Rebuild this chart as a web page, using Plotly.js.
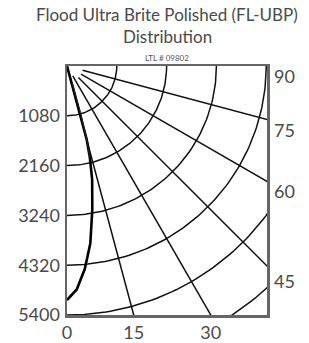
<!DOCTYPE html>
<html>
<head>
<meta charset="utf-8">
<script src="https://cdn.plot.ly/plotly-3.0.1.min.js"></script>
<style>html,body{margin:0;padding:0;background:#fff;}#chart{width:309px;height:343px;}</style>
</head>
<body>
<div id="chart"></div>
<script>
// Candela distribution (angle from nadir in degrees, intensity in cd)
var anglesMain = [0, 2.5, 5, 7.5, 10, 12.5, 14, 15, 16, 30, 45, 60, 75, 90];
var candelaMain = [5075, 4850, 4420, 3880, 3160, 2520, 2050, 1650, 0, 0, 0, 0, 0, 0];
var anglesSecond = [14, 15, 16, 17.4];
var candelaSecond = [2050, 1650, 1100, 364];

// Grid values
var circleValues = [1080, 2160, 3240, 4320, 5400, 6480];
var rayAngles = [15, 30, 45, 60, 75];
var rayStart = [0, 250, 350, 350, 350];
var leftTicks = [1080, 2160, 3240, 4320, 5400];
var bottomAngleLabels = [0, 15, 30];
var rightAngleLabels = [90, 75, 60, 45];
var titleLines = ['Flood Ultra Brite Polished (FL-UBP)', 'Distribution'];
var subTitle = 'LTL # 09802';

var Y_MAX = 5400;
var X_MAX = Y_MAX * 200 / 249;
var D = Math.PI / 180;

function toXY(angles, vals) {
  var x = [], y = [];
  for (var i = 0; i < angles.length; i++) {
    x.push(vals[i] * Math.sin(angles[i] * D));
    y.push(vals[i] * Math.cos(angles[i] * D));
  }
  return {x: x, y: y};
}

var traces = [];
var gridColor = '#111';
circleValues.forEach(function (r) {
  var a = [], v = [];
  for (var t = 0; t <= 90; t += 1) { a.push(t); v.push(r); }
  var p = toXY(a, v);
  traces.push({x: p.x, y: p.y, mode: 'lines', line: {color: gridColor, width: 1.5}, hoverinfo: 'skip', showlegend: false});
});
rayAngles.forEach(function (ang, i) {
  var p = toXY([ang, ang], [rayStart[i], 9000]);
  traces.push({x: p.x, y: p.y, mode: 'lines', line: {color: gridColor, width: 1.5}, hoverinfo: 'skip', showlegend: false});
});
var pm = toXY(anglesMain, candelaMain);
traces.push({x: pm.x, y: pm.y, mode: 'lines', line: {color: '#000', width: 2.6}, showlegend: false});
var ps = toXY(anglesSecond, candelaSecond);
traces.push({x: ps.x, y: ps.y, mode: 'lines', line: {color: '#222', width: 1.2}, showlegend: false});

var fam = 'Lato, "Open Sans", sans-serif';
var txtColor = '#4a4a4a';
var annotations = [];
rightAngleLabels.forEach(function (a) {
  var yv = a >= 90 ? 0 : Math.min(X_MAX / Math.tan(a * D), Y_MAX);
  annotations.push({xref: 'paper', yref: 'y', x: 1, y: yv, xanchor: 'left', yanchor: 'middle', xshift: 5, yshift: a === 45 ? -15 : -10,
    text: String(a), showarrow: false, font: {family: fam, color: txtColor, size: 18}});
});
annotations.push({xref: 'paper', yref: 'paper', x: 0.5, y: 1, xanchor: 'center', yanchor: 'middle', yshift: 52, xshift: 0,
  text: titleLines[0], showarrow: false, font: {family: fam, color: txtColor, size: 17}});
annotations.push({xref: 'paper', yref: 'paper', x: 0.5, y: 1, xanchor: 'center', yanchor: 'middle', yshift: 30, xshift: 0,
  text: titleLines[1], showarrow: false, font: {family: fam, color: txtColor, size: 17}});
annotations.push({xref: 'paper', yref: 'paper', x: 0.5, y: 1, xanchor: 'center', yanchor: 'middle', yshift: 8,
  text: subTitle, showarrow: false, font: {family: fam, color: '#555', size: 8}});

var layout = {
  width: 309, height: 343,
  margin: {l: 67, r: 42, t: 66, b: 28, pad: 0},
  paper_bgcolor: '#fff', plot_bgcolor: '#fff',
  xaxis: {range: [0, X_MAX], showgrid: false, zeroline: false, showline: true, mirror: true, linecolor: '#666', linewidth: 2.5,
    tickvals: bottomAngleLabels.map(function (a) { return Y_MAX * Math.tan(a * D); }),
    ticktext: bottomAngleLabels.map(String), ticks: '', ticklen: 0,
    tickfont: {family: fam, color: txtColor, size: 18}, fixedrange: true},
  yaxis: {range: [Y_MAX, 0], showgrid: false, zeroline: false, showline: true, mirror: true, linecolor: '#666', linewidth: 2.5,
    tickvals: leftTicks, ticktext: leftTicks.map(String), ticks: '', ticklen: 0, ticklabelstandoff: 1,
    tickfont: {family: fam, color: txtColor, size: 18}, fixedrange: true},
  annotations: annotations,
  showlegend: false
};
Plotly.newPlot('chart', traces, layout, {displayModeBar: false, staticPlot: true});
</script>
</body>
</html>
